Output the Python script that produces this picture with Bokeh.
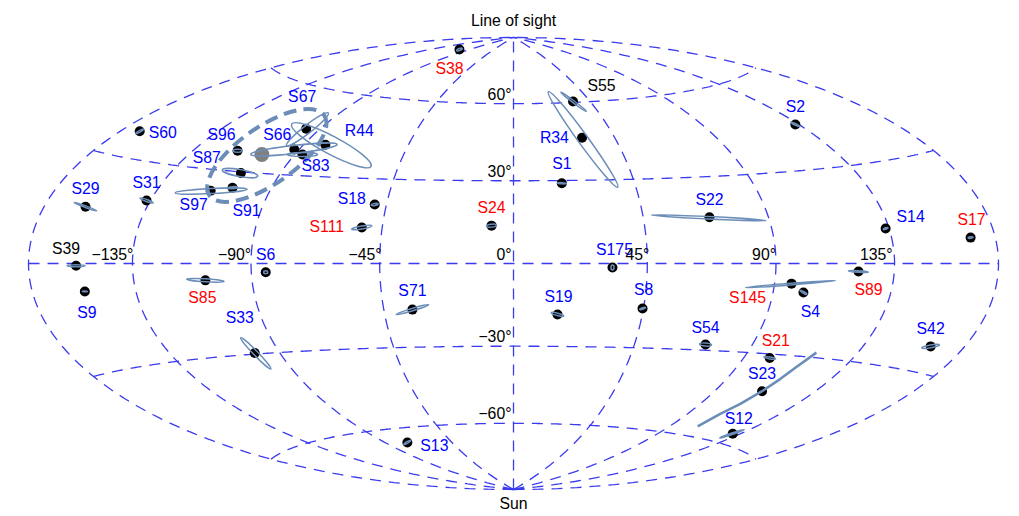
import numpy as np
from bokeh.plotting import figure
from bokeh.embed import file_html
from bokeh.resources import INLINE
from bokeh.core.properties import value

star_name = ["S38","S55","R34","S1","S22","S2","S14","S17","S24","S175","S8","S19","S71","S54","S21","S23","S12","S13","S42","S145","S4","S89","S60","S31","S29","S39","S9","S85","S6","S33","S18","S111","S97","S91","S87","S96","S66","S83","S67","R44"]
star_lon = [-103.9,35.1,30.5,17.9,68.5,133.4,133.6,168.6,-7.5,33.2,44.7,15.3,-35.0,71.9,100.5,111.2,131.0,-75.5,164.3,96.2,101.2,120.9,-170.8,-136.6,-161.1,-158.5,-156.3,-107.2,-84.8,-100.0,-49.2,-52.1,-113.1,-105.2,-105.9,-115.7,-92.1,-86.8,-96.4,-80.6]
star_lat = [81.5,60.4,46.0,29.0,15.9,44.2,10.5,6.9,13.6,-1.4,-15.9,-18.3,-16.4,-28.0,-31.3,-42.3,-56.6,-65.7,-22.9,-6.6,-9.4,-2.5,37.1,18.9,15.7,-0.6,-7.8,-5.4,-2.9,-29.6,20.8,12.6,23.3,24.7,29.6,36.6,38.8,37.3,46.1,41.2]
star_color = ["red","black","blue","blue","blue","blue","blue","red","red","blue","blue","blue","blue","blue","red","blue","blue","blue","blue","red","blue","red","blue","blue","blue","black","blue","red","blue","blue","blue","red","blue","blue","blue","blue","blue","blue","blue","blue"]
label_dx = [-10,28.5,-27.7,0,0,0,25,1,0,2,1,1,0,0,6,0,6,27,0,-44,7,10,23,0,0,-10,2,-3,0,-15,-23,-35,-17,14,-34,-16,-17,13,-4,34]
label_dy = [19,-16,0,-20,-18,-18,-12,-18,-18,-18,-19,-18,-19,-17,-17,-18,-15,3,-18,14,19,18,1,-18,-18,-17,21,17,-18,-35,-6,-1,14,23,-16,-16,-15,11,-32,-14]
orbit_a = [3,16,59,4.5,57.5,5,2.5,2.5,5,2.5,3,6.5,17,6,6,0,13,4,9,45,4,10,4.5,7,12,9,2.5,18.7,2,21.7,3.5,10.3,36,5,18,4.5,43.5,15,26.5,45]
orbit_b = [1,1,5,0.6,1.2,0.8,0.8,0.8,1.5,1.5,0.8,1.2,1.2,1.5,1,0,0.8,0.8,1.5,0.8,0.8,0.8,0.8,1,0.8,1,0.4,1.5,1.5,2.2,1,1.5,2.5,1,3.5,1.5,4,2,4,9]
orbit_pa = [20,-37,-54,-3,-2.8,-25,20,10,5,90,20,-15,17,-5,-10,0,19,30,10,4.5,-30,-3,30,-20,-20,0,0,-3.5,0,-46,10,10,3,5,-10,0,6.5,0,38,-28]
orbit_dx = [0,0.5,1,0,-0.7,0,0,0,0,0,0,0,0,0,0,0,-0.7,0,0,-1,0,0,0,0,0,0,0,0,0,1,0,0,0.5,0,-0.8,0,-0.4,0,1.3,6]
orbit_dy = [0,0.3,1.7,0,0.5,0,0,0,0,0,0,0,0,0,0,0,0,0,0,0.5,0,0,0,0,0,0,0,0,0,0.4,0,0,0.4,0,0,0,0,0,0.4,0.4]

s23_lon = [105.0,106.2,108.8,111.2,113.0,114.8,117.8]
s23_lat = [-56.4,-51.3,-47.2,-42.3,-37.7,-33.3,-28.4]
centre_lon = -103.8
centre_lat = 36.2
meridians = [-180,-135,-90,-45,0,45,90,135,180]
parallels = [-60,-30,0,30,60]
lon_ticks = ["\u2212135\u00b0","\u221290\u00b0","\u221245\u00b0","0\u00b0","45\u00b0","90\u00b0","135\u00b0"]
lat_ticks = ["60\u00b0","30\u00b0","\u221230\u00b0","\u221260\u00b0"]

RX, RY = 485.0, 226.0
def hammer(lon, lat):
    l = np.radians(np.asarray(lon, float)); b = np.radians(np.asarray(lat, float))
    d = np.sqrt(1 + np.cos(b) * np.cos(l / 2))
    return RX * np.cos(b) * np.sin(l / 2) / d, RY * np.sin(b) / d

FONT = value("Liberation Sans")
p = figure(width=1019, height=516, x_range=(-513, 506), y_range=(-253, 263),
           output_backend="svg", toolbar_location=None, x_axis_type=None, y_axis_type=None,
           min_border=0, outline_line_color=None)
p.grid.visible = False

gx, gy = [], []
for m in meridians:
    b = np.linspace(-90, 90, 241)
    x, y = hammer(np.full_like(b, m), b); gx.append(x + 0.01); gy.append(y + 0.01)
for q in parallels:
    l = np.linspace(-180, 180, 361)
    x, y = hammer(l, np.full_like(l, q)); gx.append(x + 0.01); gy.append(y + 0.01)
p.multi_line(gx, gy, line_color="#3a3aee", line_width=1.3, line_dash="11 8")

sx, sy = hammer(star_lon, star_lat)
p.scatter(sx, sy, size=10, color="black", line_color=None)

cx, cy = hammer(centre_lon, centre_lat)
ORBIT = "#6b8db8"
p.ellipse(x=[float(cx) + 5], y=[float(cy) - 1], width=[140], height=[57], angle=[35], angle_units="deg",
          fill_color=None, line_color=ORBIT, line_width=4, line_dash="13 7")
p.scatter([float(cx)], [float(cy)], size=15, color="#808080", line_color=None)

oa = np.array(orbit_a); keep = oa > 0
p.ellipse(x=(sx + np.array(orbit_dx))[keep], y=(sy - np.array(orbit_dy))[keep],
          width=2 * oa[keep], height=2 * np.array(orbit_b)[keep], angle=np.array(orbit_pa)[keep],
          angle_units="deg", fill_color=None, line_color=ORBIT, line_width=1.5)
ax, ay = hammer(s23_lon, s23_lat)
p.line(ax, ay, line_color=ORBIT, line_width=2.6)

p.text(sx, sy, text=star_name, x_offset=label_dx, y_offset=label_dy, text_color=star_color,
       text_font=FONT, text_font_size="15.8px", text_align="center", text_baseline="middle")

lx, ly = hammer([-135, -90, -45, 0, 45, 90, 135], [0] * 7)
p.text(lx, ly, text=lon_ticks, x_offset=[1, 0, 2, -2, 2, 0, -2], y_offset=[-1] * 7, text_color="black",
       text_font=FONT, text_font_size="15.8px", text_align="right", text_baseline="bottom")
tx, ty = hammer([0] * 4, [60, 30, -30, -60])
p.text(tx, ty, text=lat_ticks, x_offset=[-2] * 4, y_offset=[-1] * 4, text_color="black",
       text_font=FONT, text_font_size="15.8px", text_align="right", text_baseline="bottom")
nx, ny = hammer([0, 0], [90, -90])
p.text(nx, ny, text=["Line of sight", "Sun"], y_offset=[-17, 14], text_color="black",
       text_font=FONT, text_font_size="15.8px", text_align="center", text_baseline="middle")

open("out.html", "w").write(file_html(p, INLINE))
